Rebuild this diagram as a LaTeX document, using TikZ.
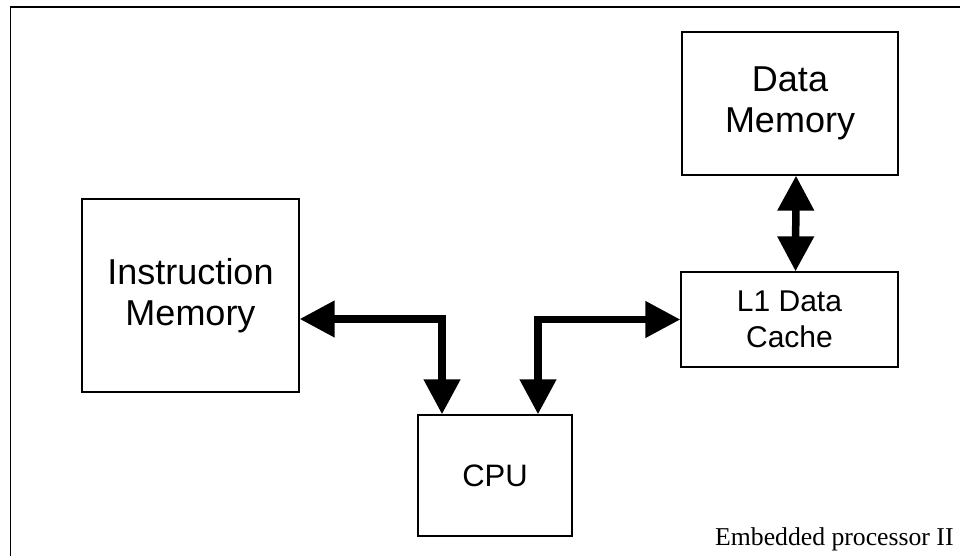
\documentclass[tikz,border=0pt]{standalone}
\usepackage{fontspec}
\setmainfont{Liberation Sans}
\newfontfamily\captionserif{Liberation Serif}
\usetikzlibrary{arrows.meta}
\tikzset{
  blk/.style={draw=black, line width=1.3pt, fill=white, align=center, inner sep=0pt},
  bus/.style={line width=7.5pt, line join=miter, line cap=butt,
    {Triangle[length=35pt,width=35pt]}-{Triangle[length=35pt,width=35pt]}},
  big/.style={font=\fontsize{36}{41.5}\selectfont},
  mid/.style={font=\fontsize{30}{36}\selectfont},
}
\begin{document}
\begin{tikzpicture}[x=1pt,y=-1pt]
\useasboundingbox (0,0) rectangle (960,556);
\clip (0,0) rectangle (960,556);
\draw[line width=1.3pt] (10.5,600) -- (10.5,7) -- (1000,7);
\node[blk, big, minimum width=217pt, minimum height=193pt] (im) at (190.5,295.5) {Instruction\\Memory};
\node[blk, big, minimum width=216pt, minimum height=143pt] (dm) at (790,103.5) {Data\\Memory};
\node[blk, mid, minimum width=217pt, minimum height=95pt] (l1) at (789.5,319.5) {L1 Data\\Cache};
\node[blk, font=\fontsize{31}{36}\selectfont, minimum width=154pt, minimum height=121pt] (cpu) at (495,475.5) {CPU};
\node[anchor=base west, inner sep=0pt, font=\captionserif\fontsize{25.7}{30}\selectfont] (cap) at (715,545) {Embedded processor II};
\draw[bus] ([yshift=-23.5pt]im.east) -| ([xshift=-53pt]cpu.north);
\draw[bus] ([xshift=43pt]cpu.north) |- (l1.west);
\draw[bus] ([xshift=6pt]dm.south) -- ([xshift=6pt]l1.north);
\end{tikzpicture}
\end{document}
